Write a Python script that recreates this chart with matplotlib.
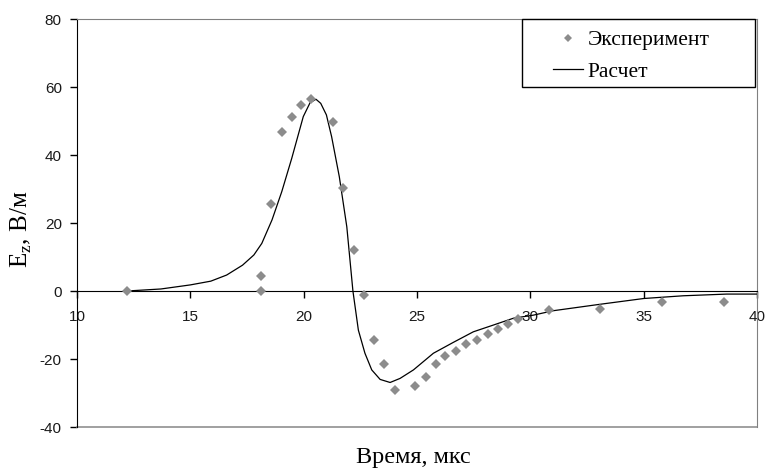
import matplotlib.pyplot as plt
from matplotlib.lines import Line2D
from matplotlib.patches import Rectangle

plt.rcParams['axes.unicode_minus'] = False

# experiment points (time, us ; Ez, V/m)
exp_t = [12.2, 18.1, 18.1, 18.55, 19.03, 19.47, 19.88, 20.34, 21.28, 21.75, 22.2,
         22.66, 23.09, 23.56, 24.01, 24.92, 25.38, 25.84, 26.25, 26.7, 27.16,
         27.64, 28.12, 28.57, 29.03, 29.44, 30.82, 33.07, 35.81, 38.54]
exp_e = [0.0, 4.4, 0.0, 25.6, 46.9, 51.1, 54.7, 56.6, 49.6, 30.3, 12.1,
         -1.1, -14.4, -21.5, -29.2, -27.8, -25.2, -21.6, -19.1, -17.5, -15.7,
         -14.5, -12.7, -11.2, -9.6, -8.3, -5.7, -5.3, -3.3, -3.3]

# calculated curve
calc_t = [12.2, 13.7, 15.0, 15.9, 16.6, 17.3, 17.8, 18.15, 18.6, 19.03, 19.47,
          19.98, 20.28, 20.54, 20.75, 21.0, 21.23, 21.57, 21.9, 22.17, 22.41,
          22.7, 23.0, 23.37, 23.81, 24.25, 24.84, 25.72, 26.6, 27.48, 28.37,
          29.25, 30.13, 31.0, 33.07, 35.0, 36.74, 38.66, 40.0]
calc_e = [0.0, 0.6, 1.8, 2.9, 4.7, 7.6, 10.6, 14.0, 20.9, 29.2, 39.0,
          51.3, 55.4, 56.4, 55.2, 51.8, 45.4, 33.6, 18.9, 0.0, -11.5,
          -18.3, -23.2, -26.0, -26.9, -25.7, -23.2, -18.3, -15.1, -12.0, -10.0,
          -8.0, -7.1, -5.8, -3.9, -2.2, -1.4, -0.9, -0.9]

fig = plt.figure(figsize=(7.65, 4.72), dpi=100)
ax = fig.add_axes([0.1007, 0.0953, 0.889, 0.8644])

ax.plot(calc_t, calc_e, color='black', lw=0.9, zorder=3)
ax.plot(exp_t, exp_e, linestyle='none', marker='D', ms=5.5, color='#8c8c8c',
        markeredgewidth=0, zorder=4)

ax.set_xlim(10, 40)
ax.set_ylim(-40, 80)
ax.set_xticks(range(10, 41, 5))
ax.set_yticks(range(-40, 81, 20))

ax.spines['bottom'].set_position(('data', 0))
ax.spines['bottom'].set_color('black')
ax.spines['left'].set_color('black')
ax.spines['top'].set_color('#808080')
ax.spines['right'].set_color('#808080')
ax.axhline(-40, color='#909090', lw=1.2, clip_on=False)

ax.tick_params(axis='both', direction='out', length=5, width=1, color='black')
ax.tick_params(axis='x', pad=9)
ax.tick_params(axis='y', pad=6)
for lab in ax.get_xticklabels() + ax.get_yticklabels():
    lab.set_fontfamily('Liberation Sans')
    lab.set_fontsize(11)
    lab.set_color('#1a1a1a')

fig.text(0.540, 0.030, 'Время, мкс', family='Liberation Serif', fontsize=17.5,
         ha='center', va='center')
fig.text(0.028, 0.515, r'E$_\mathregular{z}$, В/м', family='Liberation Serif',
         fontsize=18, rotation=90, ha='center', va='center')

# legend box (Excel-like, text sits left of centre)
fig.patches.append(Rectangle((522 / 765, 1 - 87 / 472), 233 / 765, 68 / 472,
                             transform=fig.transFigure, facecolor='white',
                             edgecolor='black', lw=1.0, zorder=5))
handles = [Line2D([], [], linestyle='none', marker='D', ms=4, color='#8c8c8c',
                  markeredgewidth=0),
           Line2D([], [], color='black', lw=0.9)]
leg = fig.legend(handles, ['Эксперимент', 'Расчет'], loc='upper left',
                 bbox_to_anchor=(553 / 765, 1 - 30 / 472), frameon=False,
                 prop={'family': 'Liberation Serif', 'size': 15.5},
                 handlelength=1.4, borderpad=0, labelspacing=0.55,
                 handletextpad=0.2, borderaxespad=0)
leg.set_zorder(6)

fig.savefig('out.png', dpi=100)
